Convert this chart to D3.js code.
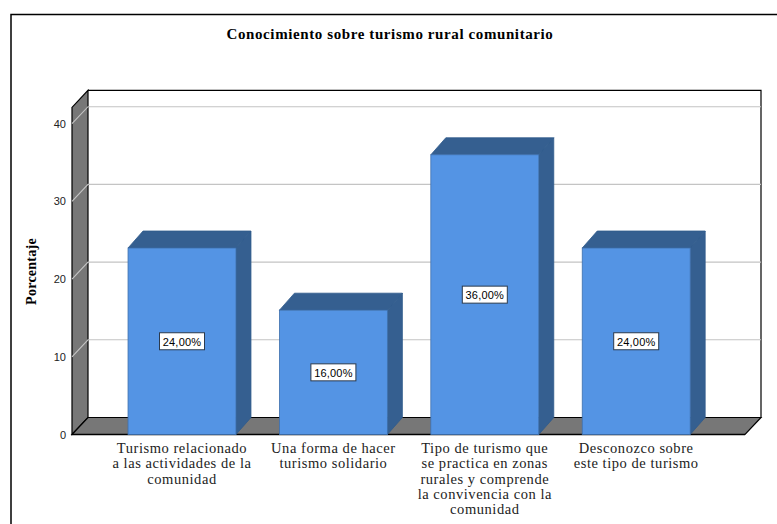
<!DOCTYPE html>
<html><head><meta charset="utf-8">
<script src="https://cdn.jsdelivr.net/npm/d3@7/dist/d3.min.js"></script>
<style>html,body{margin:0;padding:0;background:#fff}svg{display:block}</style>
</head><body><svg id="c" width="777" height="524"></svg>
<script>
const categories = [
  ["Turismo relacionado","a las actividades de la","comunidad"],
  ["Una forma de hacer","turismo solidario"],
  ["Tipo de turismo que","se practica en zonas","rurales y comprende","la convivencia con la","comunidad"],
  ["Desconozco sobre","este tipo de turismo"]
];
const values = [24, 16, 36, 24];
const valueLabels = ["24,00%","16,00%","36,00%","24,00%"];
const yTicks = [0,10,20,30,40];
const titleText = "Conocimiento sobre turismo rural comunitario";
const yTitle = "Porcentaje";

const svg = d3.select("#c");
const serif = "'Liberation Serif','Times New Roman',serif";
const sans = "'Liberation Sans',Arial,sans-serif";
const dx = 16, dy = 17;
const leftX = 72, rightX = 745, base = 434.5;
const y = d3.scaleLinear().domain([0,40]).range([base,123.7]);
const yMax = 42.1;
const x = d3.scaleBand().domain(d3.range(values.length)).range([106.3,711.9]).paddingInner(.287).paddingOuter(.1435);
const line = d3.line();
const poly = (p,fill,stroke,sw)=>svg.append("path").attr("d",line(p)+"Z").attr("fill",fill).attr("stroke",stroke||"none").attr("stroke-width",sw||0).attr("stroke-linejoin","miter");

// outer frame: only the top and left edges show
svg.append("path").attr("d",line([[11,524],[11,14.5],[777,14.5]])).attr("fill","none").attr("stroke","#000").attr("stroke-width",1.5);

const topY = y(yMax);
// walls
poly([[leftX,base],[leftX,topY],[leftX+dx,topY-dy],[leftX+dx,base-dy]],"#777","#000",1.2);
poly([[leftX,base],[leftX+dx,base-dy],[rightX+dx,base-dy],[rightX,base]],"#777","#000",1.2);
svg.append("path").attr("d",line([[leftX+dx,topY-dy],[rightX+dx,topY-dy],[rightX+dx,base-dy]])).attr("fill","none").attr("stroke","#000").attr("stroke-width",1.2);

// gridlines
yTicks.slice(1).forEach(t=>{
  svg.append("path").attr("d",line([[leftX,y(t)],[leftX+dx,y(t)-dy],[rightX+dx,y(t)-dy]]))
    .attr("fill","none").attr("stroke","#c4c4c4").attr("stroke-width",1.1);
});
svg.append("path").attr("d",line([[leftX,base],[rightX,base]])).attr("stroke","#000").attr("stroke-width",1.4);

// bars
values.forEach((v,i)=>{
  const x0=x(i), x1=x0+x.bandwidth(), yt=y(v);
  poly([[x1,yt],[x1+dx-1,yt-dy],[x1+dx-1,base-dy],[x1,base]],"#355f90","#2f5a8c",.8);
  poly([[x0,yt],[x0+dx-1,yt-dy],[x1+dx-1,yt-dy],[x1,yt]],"#355f90","#2f5a8c",.8);
  svg.append("rect").attr("x",x0).attr("y",yt).attr("width",x.bandwidth()).attr("height",base-yt)
    .attr("fill","#5494e4").attr("stroke","#3f70ad").attr("stroke-width",.8);
  const cx=(x0+x1)/2, cy=(yt+base)/2;
  svg.append("rect").attr("x",cx-22.5).attr("y",cy-8.5).attr("width",45).attr("height",17)
    .attr("fill","#fff").attr("stroke","#2b3a4d").attr("stroke-width",1);
  svg.append("text").attr("x",cx).attr("y",cy+4.4).attr("text-anchor","middle")
    .attr("font-family",sans).attr("font-size",11).attr("letter-spacing",.2).attr("fill","#000").text(valueLabels[i]);
  categories[i].forEach((l,k)=>{
    svg.append("text").attr("x",cx).attr("y",453+k*15.3).attr("text-anchor","middle")
      .attr("font-family",serif).attr("font-size",14.5).attr("letter-spacing",.55).attr("fill","#222").text(l);
  });
});

// y tick labels
yTicks.forEach(t=>{
  svg.append("text").attr("x",66).attr("y",y(t)+4).attr("text-anchor","end")
    .attr("font-family",sans).attr("font-size",11).attr("fill","#222").text(t);
});
svg.append("text").attr("transform","translate(35.5,271.5) rotate(-90)").attr("text-anchor","middle")
  .attr("font-family",serif).attr("font-weight","bold").attr("font-size",14).attr("letter-spacing",.25).attr("fill","#000").text(yTitle);
svg.append("text").attr("x",390).attr("y",38.5).attr("text-anchor","middle")
  .attr("font-family",serif).attr("font-weight","bold").attr("font-size",15).attr("letter-spacing",.6).attr("fill","#000").text(titleText);
</script></body></html>
